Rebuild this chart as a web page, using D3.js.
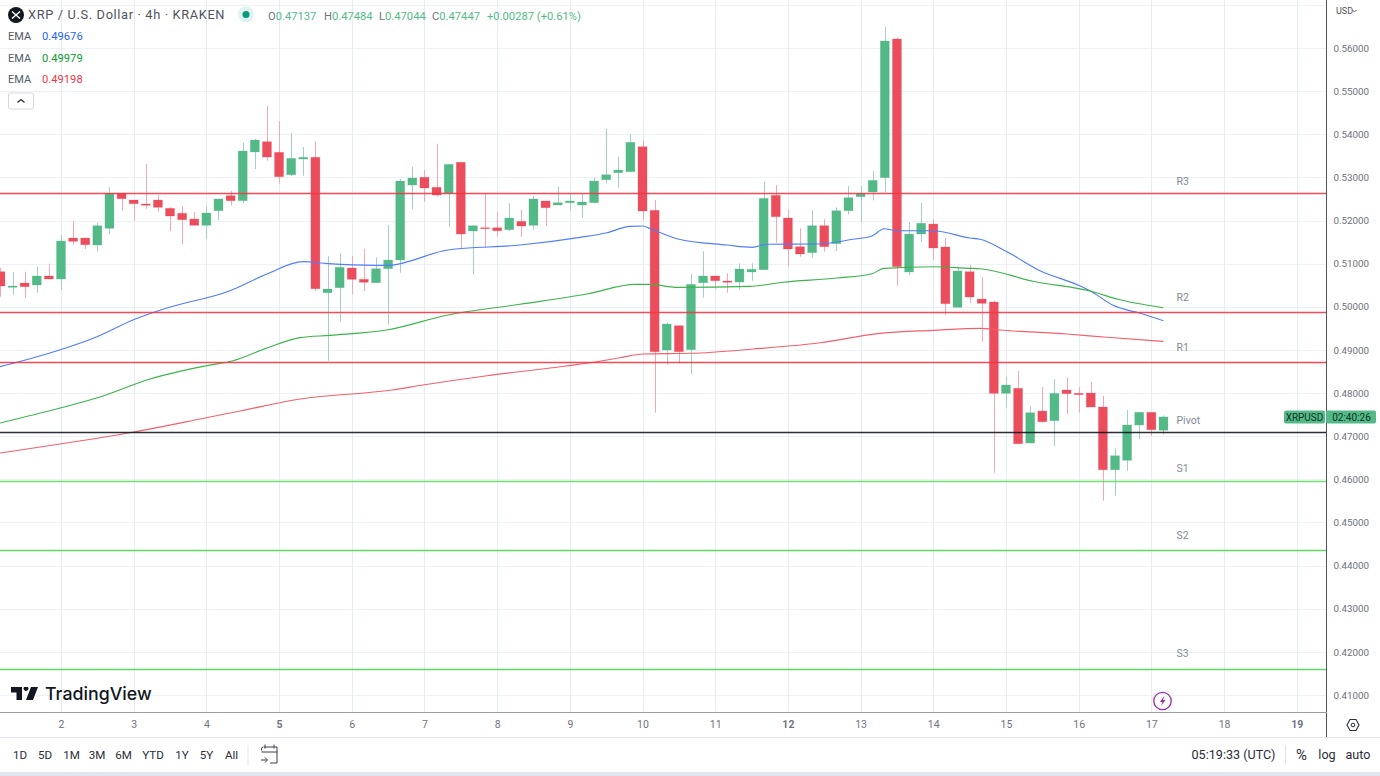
<!DOCTYPE html>
<html><head><meta charset="utf-8">
<script src="https://cdn.jsdelivr.net/npm/d3@7/dist/d3.min.js"></script>
<style>html,body{margin:0;padding:0;background:#fff;overflow:hidden}svg{display:block}
text{font-family:Roboto,"Noto Sans",sans-serif}</style></head><body>
<svg id="c" width="1380" height="776"></svg>
<script>
// candle positions run in 4-hour steps, 0 = start of day "2"
const firstCandle = -5;
const candleOpen = [.50814,.50452,.50551,.50505,.50714,.50644,.51594,.51594,.51432,.51819,.52631,.52476,.52383,.52476,.52283,.52168,.52035,.51889,.52228,.52576,.52460,.53589,.53827,.53582,.53062,.53426,.53466,.50326,.50442,.50899,.50637,.50558,.50883,.51085,.52823,.53002,.52770,.52631,.53350,.51757,.51833,.51833,.51787,.51982,.51889,.52453,.52360,.52413,.52360,.52413,.52946,.53109,.53132,.53712,.52237,.48998,.49562,.49005,.50558,.50714,.50598,.50574,.50807,.50860,.52585,.52058,.51394,.51254,.51880,.51463,.52228,.52552,.52661,.52993,.56209,.50807,.51687,.51919,.51386,.49988,.50814,.50180,.50111,.47994,.48110,.46841,.47583,.47359,.48071,.47994,.48001,.47676,.46222,.46441,.47259,.47554,.47137];
const candleClose = [.50482,.50482,.50466,.50714,.50644,.51525,.51518,.51439,.51880,.52631,.52506,.52390,.52353,.52307,.52105,.52019,.51889,.52175,.52499,.52460,.53612,.53867,.53472,.53016,.53442,.53466,.50419,.50412,.50916,.50637,.50568,.50883,.51085,.52916,.52986,.52754,.52591,.53303,.51687,.51880,.51810,.51763,.52058,.51873,.52499,.52297,.52413,.52453,.52430,.52916,.53062,.53171,.53814,.52221,.48958,.49601,.48958,.50521,.50714,.50605,.50568,.50876,.50869,.52515,.52089,.51340,.51224,.51880,.51394,.52228,.52529,.52622,.52932,.56162,.50930,.51687,.51936,.51363,.50072,.50830,.50227,.50080,.47994,.48186,.46825,.47544,.47335,.47994,.47985,.47962,.47676,.46222,.46547,.47259,.47554,.47150,.47447];
const candleHigh = [.50899,.50807,.50814,.50930,.51000,.51664,.51989,.51594,.51942,.52770,.52631,.52476,.53310,.52591,.52307,.52337,.52198,.52321,.52499,.52684,.53804,.53897,.54655,.54307,.54029,.53705,.53837,.51171,.51240,.51178,.51347,.51148,.51896,.52962,.53241,.53171,.53781,.53303,.53350,.51880,.52631,.52198,.52399,.52244,.52568,.52453,.52784,.52631,.52615,.53002,.54122,.53480,.54000,.53851,.52476,.49631,.49562,.50760,.51287,.50714,.50776,.51008,.51008,.52909,.52823,.52260,.51820,.52244,.52028,.52307,.52800,.52800,.53148,.56494,.56248,.51965,.52413,.52028,.51595,.50899,.50969,.50684,.50141,.48379,.48511,.47700,.48140,.48319,.48365,.48133,.48263,.47931,.46719,.47607,.47554,.47554,.47484];
const candleLow = [.50234,.50280,.50203,.50326,.50644,.50389,.51439,.51340,.51277,.51687,.52228,.51996,.52274,.52205,.51757,.51456,.51889,.51578,.52012,.52353,.52399,.53194,.53387,.52864,.53032,.53039,.50372,.48750,.49655,.50289,.50366,.50558,.49585,.50790,.52260,.52437,.52552,.51857,.51347,.50753,.51363,.51625,.51757,.51625,.51780,.51873,.52360,.52228,.52058,.52413,.52864,.52761,.53132,.52012,.47544,.48657,.48689,.48441,.50210,.50405,.50326,.50405,.50605,.50860,.51486,.50930,.51162,.51138,.51277,.51293,.52135,.51949,.52469,.52661,.50489,.50737,.51509,.51085,.49809,.49988,.50095,.49191,.46152,.47660,.46825,.46841,.47312,.46772,.47514,.47544,.47676,.45504,.45620,.46199,.46928,.47004,.47044];

const emaBlueAt = [-5.04,-.91,2.97,5.94,8.75,13.95,17,19.97,22.04,26,27,31.94,37.9,42.84,45.07,46.97,48.04,48.6,50.93,54.97,57.04,58.28,62.4,65.37,66.94,67.93,69,71.98,75.03,75.86,78.08,80.81,83.95,84.94,86.84,89.07,91];
const emaBlue = [.48611,.48928,.49306,.49694,.49972,.50373,.50760,.51046,.51000,.50962,.50962,.51317,.51432,.51611,.51718,.51866,.51873,.51815,.51572,.51432,.51379,.51449,.51456,.51565,.51641,.51810,.51764,.51764,.51595,.51565,.51277,.50837,.50505,.50373,.50034,.49849,.49676];
const emaGreenAt = [-5.04,-.08,3.22,7.35,11.89,14.2,17,19.73,22.2,27,31.94,37.89,43.4,47.4,48.6,50.85,56.87,59.6,64.05,66.94,67.93,71.98,75.03,75.86,80.23,85.18,87.16,91];
const emaGreen = [.47305,.47653,.47909,.48325,.48627,.48750,.49045,.49284,.49339,.49469,.49810,.50058,.50296,.50521,.50521,.50452,.50475,.50568,.50667,.50767,.50892,.50929,.50892,.50883,.50591,.50349,.50180,.49979];
const emaRedAt = [-5.04,-.08,6.03,11.89,14.78,19.73,27.32,29.88,35.16,40.36,44.24,46.14,48.04,52,57.12,62.65,67.6,71.98,75.86,77.5,83.04,86.34,91];
const emaRed = [.46610,.46818,.47097,.47421,.47584,.47862,.48071,.48187,.48402,.48581,.48727,.48820,.48905,.48922,.49021,.49167,.49385,.49455,.49501,.49462,.49369,.49293,.49198];

const pivotNames = ["R3","R2","R1","Pivot","S1","S2","S3"];
const pivotValues = [.52631,.49886,.48720,.47106,.45961,.44361,.41595];
const pivotColors = ["#f23645","#f23645","#f23645","#131722","#5fe05f","#4fd64f","#4fd64f"];
const pivotWidths = [1.4,1.7,1.7,1.5,1.4,1.4,1.4];

const priceTicks = [.41,.42,.43,.44,.45,.46,.47,.48,.49,.50,.51,.52,.53,.54,.55,.56];
const gridOnlyPrices = [.57];
const dayLabels = [2,3,4,5,6,7,8,9,10,11,12,13,14,15,16,17,18,19];
const boldDays = [5,12,19];
const rangeLabels = ["1D","5D","1M","3M","6M","YTD","1Y","5Y","All"];
const rangeX = [20,45,71.5,97,123.5,153,182,206.5,231.5];
const ohlcLabels = ["O","H","L","C"];
const ohlcValues = ["0.47137","0.47484","0.47044","0.47447"];
const ohlcX = [268,324,379,432];
const emaLegendValues = ["0.49676","0.49979","0.49198"];
const emaColors = ["#2962ff","#089c2c","#f23645"];

const UP="#53b987", DOWN="#eb4d5c";
const svg=d3.select("#c");
const x=d3.scaleLinear().domain([0,1]).range([61,73.115]);
const y=d3.scaleLinear().domain([.41,.56]).range([695,48]);
const plotW=1327, plotH=712.5;
const day2pos=d=>(d-2)*6;

const plot=svg.append("g");
// grid
plot.append("g").selectAll("line").data(priceTicks.concat(gridOnlyPrices)).join("line")
 .attr("x1",0).attr("x2",plotW).attr("y1",d=>Math.round(y(d))+.5).attr("y2",d=>Math.round(y(d))+.5)
 .attr("stroke","#eef2f7").attr("stroke-width",1);
plot.append("g").selectAll("line").data(dayLabels).join("line")
 .attr("x1",d=>Math.round(x(day2pos(d)))+.5).attr("x2",d=>Math.round(x(day2pos(d)))+.5).attr("y1",0).attr("y2",plotH)
 .attr("stroke","#e4edf3").attr("stroke-width",1);

// candles
const candles=candleOpen.map((o,i)=>({i:firstCandle+i,o,c:candleClose[i],h:candleHigh[i],l:candleLow[i]}));
const colorOf=d=>d.c>=d.o?UP:DOWN;
const wickOf=d=>d.c>=d.o?"#a3cfc9":"#f5a8b2";
plot.append("g").selectAll("line").data(candles).join("line")
 .attr("x1",d=>Math.round(x(d.i))+.5).attr("x2",d=>Math.round(x(d.i))+.5)
 .attr("y1",d=>y(d.h)).attr("y2",d=>y(d.l)).attr("stroke",wickOf).attr("stroke-width",1);
plot.append("g").selectAll("rect").data(candles).join("rect")
 .attr("x",d=>x(d.i)-4.5).attr("width",9)
 .attr("y",d=>y(Math.max(d.o,d.c))).attr("height",d=>Math.max(1,Math.abs(y(d.o)-y(d.c))))
 .attr("fill",colorOf).attr("stroke",colorOf).attr("stroke-opacity",.3).attr("stroke-width",.8);

// EMAs
const line=d3.line().x(d=>x(d[0])).y(d=>y(d[1])).curve(d3.curveMonotoneX);
[[emaBlueAt,emaBlue,"#4f7dff"],[emaGreenAt,emaGreen,"#3db34a"],[emaRedAt,emaRed,"#f2606e"]].forEach(([a,v,col])=>{
 plot.append("path").attr("d",line(a.map((p,i)=>[p,v[i]]))).attr("fill","none").attr("stroke",col).attr("stroke-width",1.15);
});

// pivot lines
const snap=d=>Math.round(y(d))+.5;
plot.append("g").selectAll("line").data(pivotValues).join("line")
 .attr("x1",0).attr("x2",plotW).attr("y1",snap).attr("y2",snap)
 .attr("stroke",(d,i)=>pivotColors[i]).attr("stroke-width",(d,i)=>pivotWidths[i]).attr("stroke-opacity",.9);
const pivotLabelOffset=[-12,-14,-15,-11,-13,-15,-16];
plot.append("g").selectAll("text").data(pivotNames).join("text")
 .attr("x",1176.5).attr("y",(d,i)=>y(pivotValues[i])+pivotLabelOffset[i]).attr("dy",".35em")
 .attr("font-size",10.5).attr("fill","#7f8c99").text(d=>d);

// price axis
const axY=svg.append("g").attr("transform",`translate(${plotW-.5},0)`)
 .call(d3.axisRight(y).tickValues(priceTicks).tickFormat(d3.format(".5f")).tickSize(0).tickPadding(7));
axY.select(".domain").attr("d","M0,0V737.5").attr("stroke","#50535e").attr("stroke-width",1);
axY.selectAll("text").attr("font-size",9.8).attr("fill","#6e717b").style("font-family","Roboto");
svg.append("text").attr("x",1336).attr("y",11).attr("dy",".35em").attr("font-size",9).attr("fill","#555").text("USD");
svg.append("path").attr("d","M1352.5 10l2 2 2-2").attr("fill","none").attr("stroke","#555").attr("stroke-width",.9);

// time axis
const axX=svg.append("g").attr("transform",`translate(0,${plotH})`)
 .call(d3.axisBottom(x).tickValues(dayLabels.map(day2pos)).tickFormat(p=>dayLabels[p/6]).tickSize(0).tickPadding(8));
axX.select(".domain").attr("d",`M0,0H${plotW}`).attr("stroke","#9a9da6").attr("stroke-width",1);
axX.selectAll("text").attr("font-size",10.5).attr("fill","#707380")
 .attr("font-weight",p=>boldDays.includes(dayLabels[p/6])?700:400);

// bottom chrome
svg.append("rect").attr("x",0).attr("y",737).attr("width",1380).attr("height",1).attr("fill","#e0e3eb");
svg.append("rect").attr("x",0).attr("y",772).attr("width",1380).attr("height",4).attr("fill","#e4e6ee");
svg.append("g").selectAll("text").data(rangeLabels).join("text")
 .attr("x",(d,i)=>rangeX[i]).attr("y",755).attr("dy",".35em").attr("text-anchor","middle")
 .attr("font-size",11.6).attr("fill","#2a2e39").text(d=>d);
[248,1285.5].forEach(v=>svg.append("line").attr("x1",v).attr("x2",v).attr("y1",745).attr("y2",765).attr("stroke","#e0e3eb"));
svg.append("path").attr("d","M264 747h13v16h-7M261.500 750.500v-1.500q0-2 2-2M261.500 752h16M265 744.500v4M274 744.500v4M261 760h6M265 757.500l2.500 2.500-2.500 2.500")
 .attr("fill","none").attr("stroke","#3a3e4a").attr("stroke-width",1);
svg.append("text").attr("x",1233.500).attr("y",755).attr("dy",".35em").attr("text-anchor","middle").attr("font-size",12.6).attr("fill","#2a2e39").text("05:19:33 (UTC)");
svg.append("text").attr("x",1301.500).attr("y",755).attr("dy",".35em").attr("text-anchor","middle").attr("font-size",15).attr("fill","#2a2e39").text("%");
svg.append("text").attr("x",1327).attr("y",755).attr("dy",".35em").attr("text-anchor","middle").attr("font-size",12.6).attr("fill","#2a2e39").text("log");
svg.append("text").attr("x",1358).attr("y",755).attr("dy",".35em").attr("text-anchor","middle").attr("font-size",12.6).attr("fill","#2a2e39").text("auto");
svg.append("path").attr("d","M1347 725l3-5.500h6l3 5.500-3 5.500h-6z").attr("fill","none").attr("stroke","#2a2e39").attr("stroke-width",1.1);
svg.append("circle").attr("cx",1353).attr("cy",725).attr("r",1.800).attr("fill","none").attr("stroke","#2a2e39");

// last-price tag
svg.append("rect").attr("x",1284).attr("y",410.500).attr("width",41).attr("height",13).attr("rx",2).attr("fill",UP);
svg.append("rect").attr("x",1326).attr("y",410.500).attr("width",50).attr("height",13).attr("rx",2).attr("fill",UP);
svg.append("text").attr("x",1304.500).attr("y",417).attr("dy",".35em").attr("text-anchor","middle").attr("font-size",10).attr("fill","#10332a").text("XRPUSD");
svg.append("text").attr("x",1351.500).attr("y",417).attr("dy",".35em").attr("text-anchor","middle").attr("font-size",10).attr("fill","#10332a").text("02:40:26");

// legend
svg.append("circle").attr("cx",16).attr("cy",15).attr("r",8).attr("fill","#131722");
svg.append("path").attr("d","M12 11.500l8 7M20 11.500l-8 7").attr("stroke","#fff").attr("stroke-width",1.500);
svg.append("text").attr("x",28).attr("y",15).attr("dy",".35em").attr("font-size",12.800).attr("fill","#50535e").attr("letter-spacing",.65).text("XRP / U.S. Dollar · 4h · KRAKEN");
svg.append("circle").attr("cx",246).attr("cy",14.500).attr("r",8).attr("fill","#089981").attr("fill-opacity",.12);
svg.append("circle").attr("cx",246).attr("cy",14.500).attr("r",3.500).attr("fill","#089981");
ohlcLabels.forEach((l,i)=>{
 const t=svg.append("text").attr("x",ohlcX[i]).attr("y",16).attr("dy",".35em").attr("font-size",11.2);
 t.append("tspan").attr("fill","#6e7480").text(l);
 t.append("tspan").attr("fill",UP).text(ohlcValues[i]);
});
svg.append("text").attr("x",487).attr("y",16).attr("dy",".35em").attr("font-size",11.2).attr("fill",UP).text("+0.00287 (+0.61%)");
emaLegendValues.forEach((v,i)=>{
 const yy=[36,58,79.500][i];
 svg.append("text").attr("x",8).attr("y",yy).attr("dy",".35em").attr("font-size",11).attr("fill","#555a66").text("EMA");
 svg.append("text").attr("x",42).attr("y",yy).attr("dy",".35em").attr("font-size",11.2).attr("fill",emaColors[i]).text(v);
});
svg.append("rect").attr("x",8.500).attr("y",93).attr("width",25).attr("height",16).attr("rx",2).attr("fill","#fff").attr("stroke","#d5d8e0");
svg.append("path").attr("d","M17.500 102.500l3.500-3 3.500 3").attr("fill","none").attr("stroke","#2a2e39").attr("stroke-width",1.300);

// watermark
svg.append("path").attr("d","M11 687h11v13h-5.500v-7.500H11zM24 687h4a2.500 2.500 0 1 1-4 0zM31 687h7l-5 13h-7z").attr("fill","#131722");
svg.append("text").attr("x",45).attr("y",694).attr("dy",".35em").attr("font-size",17.800).attr("font-weight",500).attr("fill","#131722").style("font-family","Inter").text("TradingView");

// lightning
svg.append("circle").attr("cx",1162.500).attr("cy",701).attr("r",8.700).attr("fill","#fff").attr("stroke","#9c27b0").attr("stroke-width",1.300);
svg.append("path").attr("d","M1164.500 695.500l-4.500 6.500h2.500l-1.500 4 4.500-6h-2.500z").attr("fill","#9c27b0");
</script></body></html>
